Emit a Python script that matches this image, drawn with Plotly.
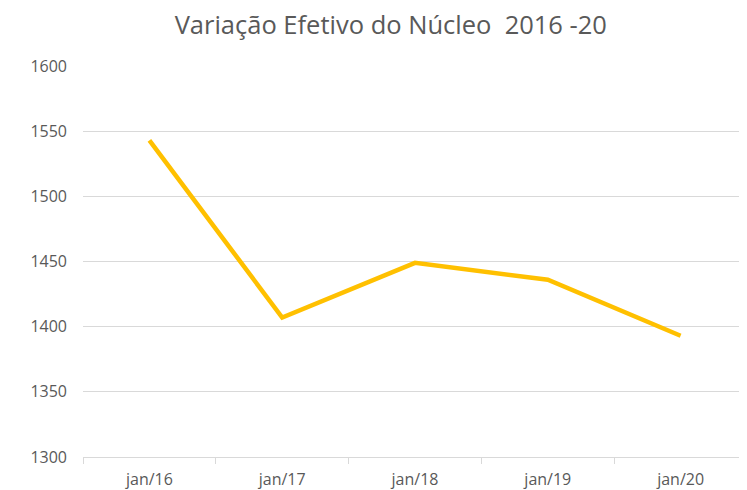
import plotly.graph_objects as go

categories = ["jan/16", "jan/17", "jan/18", "jan/19", "jan/20"]
values = [1543, 1407, 1449, 1436, 1393]
y_ticks = [1300, 1350, 1400, 1450, 1500, 1550, 1600]

fig = go.Figure()
fig.add_trace(go.Scatter(
    x=categories, y=values, mode="lines",
    line=dict(color="#FFC000", width=4.5),
    hoverinfo="x+y",
))

font = "Open Sans"
fig.update_layout(
    width=739, height=482,
    margin=dict(l=75, r=0, t=58, b=33),
    paper_bgcolor="white", plot_bgcolor="white",
    showlegend=False,
    title=dict(text="Variação Efetivo do Núcleo  2016 -20", x=0.518, xanchor="center",
               y=0.965, yanchor="middle",
               font=dict(family=font, size=25.5, color="#595959")),
    font=dict(family=font, color="#595959", size=14),
)
fig.update_xaxes(
    type="category", tickson="boundaries", ticks="outside", ticklen=6,
    tickcolor="#d9d9d9", showline=True, linecolor="#d9d9d9", linewidth=1,
    showgrid=False, tickfont=dict(size=16, color="#595959"),
    range=[-0.5, 4.5], ticklabelstandoff=8,
)
fig.update_yaxes(
    range=[1300, 1600], tickvals=y_ticks, showgrid=True, gridcolor="#d9d9d9",
    gridwidth=1, zeroline=False, showline=False, ticks="",
    tickfont=dict(size=16, color="#595959"), ticklabelstandoff=15,
)

fig.write_html("out.html")
